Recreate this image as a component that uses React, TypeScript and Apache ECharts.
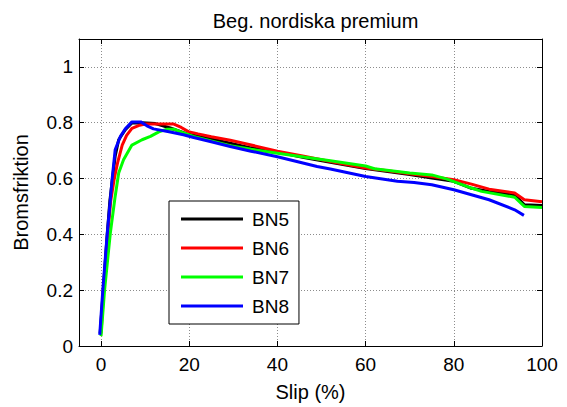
import React, { useEffect, useRef } from "react";
import * as echarts from "echarts";

// Slip (%) / brake friction pairs for each tyre
const bn5: [number, number][] = [
  [-0.2, 0.045], [0.5, 0.2], [1.4, 0.4], [2.0, 0.52], [2.6, 0.6], [3.2, 0.68], [4.0, 0.739],
  [5.5, 0.775], [7.0, 0.799], [9.3, 0.8], [12.3, 0.797], [15.7, 0.781], [19.5, 0.76],
  [21, 0.755], [25, 0.742], [29.3, 0.727], [34, 0.71], [40, 0.695], [46, 0.675], [52, 0.658],
  [60, 0.636], [65, 0.625], [70, 0.614], [75, 0.602], [80, 0.59], [84, 0.565], [88, 0.554],
  [93.8, 0.542], [96, 0.506], [100, 0.503],
];
const bn6: [number, number][] = [
  [0, 0.045], [0.6, 0.2], [1.5, 0.4], [2.2, 0.52], [3.0, 0.6], [3.8, 0.66], [4.8, 0.72],
  [5.8, 0.755], [7.0, 0.78], [8.5, 0.79], [10, 0.795], [13, 0.795], [16.5, 0.795], [18.2, 0.783],
  [19.8, 0.768], [22, 0.76], [25, 0.75], [29.3, 0.737], [33.8, 0.721], [40, 0.698], [46, 0.68],
  [52, 0.661], [60, 0.638], [65, 0.628], [70, 0.617], [75, 0.607], [80, 0.596], [84, 0.58],
  [88, 0.562], [93.8, 0.548], [96, 0.524], [100, 0.517],
];
const bn7: [number, number][] = [
  [0, 0.035], [0.8, 0.2], [2.1, 0.404], [3.2, 0.536], [4.0, 0.62], [5.1, 0.667], [7.0, 0.72],
  [9.3, 0.739], [11.2, 0.751], [13.1, 0.767], [15, 0.777], [16.5, 0.777], [18.4, 0.765],
  [21, 0.751], [25, 0.735], [29.3, 0.718], [34, 0.705], [40, 0.691], [46, 0.677], [52, 0.664],
  [60, 0.645], [62, 0.635], [70, 0.62], [75, 0.613], [78.5, 0.598], [84, 0.566], [86.3, 0.554],
  [93.8, 0.533], [96, 0.5], [100, 0.496],
];
const bn8: [number, number][] = [
  [-0.3, 0.04], [0.4, 0.2], [1.35, 0.392], [2.1, 0.524], [2.5, 0.596], [3.2, 0.703], [4.4, 0.751],
  [5.5, 0.778], [7.0, 0.803], [9.0, 0.803], [10.4, 0.789], [11.9, 0.778], [15.7, 0.767],
  [18.7, 0.757], [21, 0.747], [25, 0.732], [29.3, 0.715], [34, 0.698], [40, 0.678], [49, 0.643],
  [52, 0.634], [60, 0.607], [63.4, 0.599], [67.2, 0.59], [71, 0.586], [75, 0.578], [80, 0.56],
  [84, 0.542], [88, 0.524], [93.8, 0.488], [95.9, 0.468],
];

const seriesNames = ["BN5", "BN6", "BN7", "BN8"];
const seriesData = [bn5, bn6, bn7, bn8];
const seriesColors = ["#000000", "#ff0000", "#00ff00", "#0000ff"];

const FONT = "'Liberation Sans', Arial, Helvetica, sans-serif";

export default function App() {
  const ref = useRef<HTMLDivElement>(null);

  useEffect(() => {
    if (!ref.current) return;
    const chart = echarts.init(ref.current, undefined, { renderer: "svg" });

    const gridLine = { show: true, lineStyle: { color: "#8c8c8c", width: 1, type: [1, 2] as any } };
    const axisLine = { show: true, onZero: false, lineStyle: { color: "#000", width: 1 } };
    const tick = { show: true, inside: true, length: 5, lineStyle: { color: "#000", width: 1 } };

    chart.setOption({
      animation: false,
      textStyle: { fontFamily: FONT },
      title: {
        text: "Beg. nordiska premium",
        left: 310.5,
        textAlign: "center",
        top: 6,
        textStyle: { fontSize: 20, fontWeight: "normal", color: "#000", fontFamily: FONT },
      },
      grid: { left: 79, right: 25, top: 39, bottom: 61, containLabel: false },
      legend: {
        orient: "vertical",
        left: 169,
        top: 201,
        backgroundColor: "#ffffff",
        borderColor: "#000",
        borderWidth: 1,
        borderRadius: 0,
        padding: [8, 10, 8, 12],
        itemWidth: 62,
        itemHeight: 3,
        itemGap: 9,
        icon: "rect",
        textStyle: { fontSize: 19, color: "#000", fontFamily: FONT, lineHeight: 20, padding: [0, 0, 0, 4] },
        data: seriesNames,
      },
      xAxis: [
        {
          type: "value",
          position: "bottom",
          min: -5,
          max: 100,
          splitNumber: 5,
          name: "Slip (%)",
          nameLocation: "middle",
          nameGap: 36,
          nameTextStyle: { fontSize: 20, color: "#000", fontFamily: FONT },
          axisLine,
          axisTick: tick,
          axisLabel: { fontSize: 19, color: "#000", margin: 9, showMinLabel: false, fontFamily: FONT },
          splitLine: gridLine,
        },
        {
          type: "value",
          position: "top",
          min: -5,
          max: 100,
          splitNumber: 5,
          axisLine,
          axisTick: tick,
          axisLabel: { show: false },
          splitLine: { show: false },
        },
      ],
      yAxis: [
        {
          type: "value",
          position: "left",
          min: 0,
          max: 1.1,
          interval: 0.2,
          name: "Bromsfriktion",
          nameLocation: "middle",
          nameRotate: 90,
          nameGap: 48,
          nameTextStyle: { fontSize: 20, color: "#000", fontFamily: FONT },
          axisLine,
          axisTick: tick,
          axisLabel: { fontSize: 19, color: "#000", margin: 6, showMaxLabel: false, fontFamily: FONT },
          splitLine: gridLine,
        },
        {
          type: "value",
          position: "right",
          min: 0,
          max: 1.1,
          interval: 0.2,
          axisLine,
          axisTick: tick,
          axisLabel: { show: false },
          splitLine: { show: false },
        },
      ],
      series: seriesData.map((d, i) => ({
        name: seriesNames[i],
        type: "line",
        data: d,
        xAxisIndex: 0,
        yAxisIndex: 0,
        color: seriesColors[i],
        showSymbol: false,
        symbol: "none",
        smooth: false,
        silent: true,
        lineStyle: { color: seriesColors[i], width: 3 },
        emphasis: { disabled: true },
      })),
    });

    return () => chart.dispose();
  }, []);

  return <div ref={ref} style={{ width: 567, height: 407, position: "absolute", left: 0, top: 0 }} />;
}
